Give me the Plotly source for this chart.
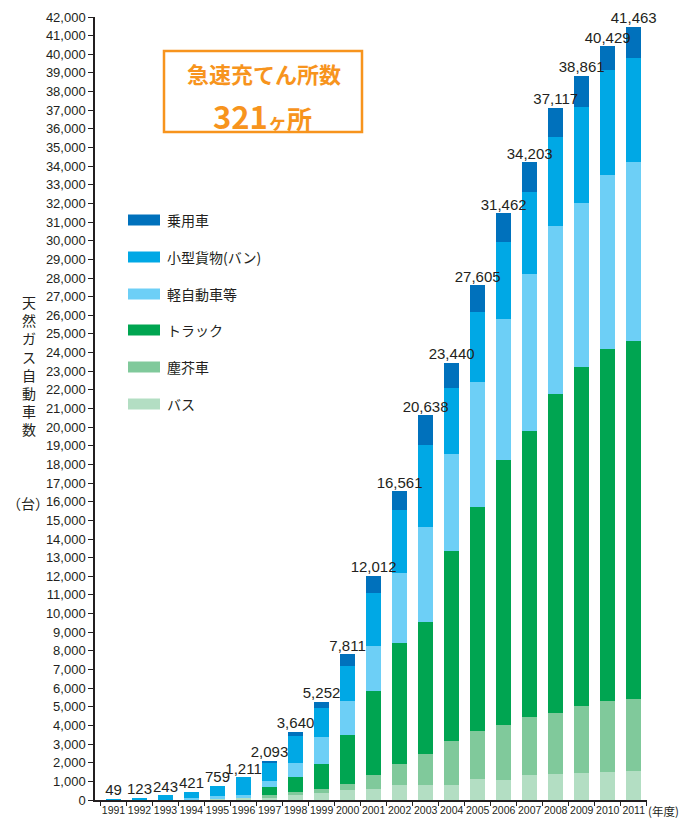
import plotly.graph_objects as go

years = [str(y) for y in range(1991, 2012)]
totals = [49, 123, 243, 421, 759, 1211, 2093, 3640, 5252, 7811, 12012, 16561,
          20638, 23440, 27605, 31462, 34203, 37117, 38861, 40429, 41463]

bus = [0, 0, 0, 0, 40, 120, 142, 276, 375, 542, 590, 802,
       800, 800, 1126, 1070, 1342, 1395, 1449, 1503, 1556]
garbage = [0, 0, 0, 0, 0, 0, 106, 165, 215, 326, 751, 1121,
           1680, 2368, 2584, 2968, 3108, 3274, 3596, 3810, 3864]
truck = [0, 0, 0, 0, 0, 0, 461, 791, 1341, 2603, 4506, 6518,
         7088, 10207, 11980, 14186, 15350, 17131, 18205, 18887, 19180]
kei = [0, 0, 0, 120, 180, 125, 319, 754, 1448, 1845, 2414, 3740,
       5056, 5197, 6733, 7565, 8440, 9000, 8800, 9350, 9600]
van = [49, 123, 243, 301, 539, 966, 958, 1434, 1556, 1898, 2842, 3366,
       4433, 3504, 3779, 4147, 4360, 4750, 5130, 5600, 5600]
car = [t - (a + b + c + d + e) for t, a, b, c, d, e in zip(totals, bus, garbage, truck, kei, van)]

series_names = ["バス", "塵芥車", "トラック", "軽自動車等", "小型貨物(バン)", "乗用車"]
series_colors = ["#b3dec3", "#80c99b", "#00a551", "#6dcff6", "#00a8e5", "#0071bc"]
series_values = [bus, garbage, truck, kei, van, car]

y_ticks = list(range(0, 42001, 1000))

INK = "#231f20"
ORANGE = "#f7941d"
JP = "Noto Sans CJK JP"

fig = go.Figure()
for name, col, vals in zip(series_names, series_colors, series_values):
    fig.add_trace(go.Bar(x=years, y=vals, name=name, marker=dict(color=col, line=dict(width=0)),
                         showlegend=False))

fig.add_trace(go.Scatter(x=years, y=totals, mode="text", text=[f"{t:,}" for t in totals],
                         textposition="top center", showlegend=False, cliponaxis=False,
                         textfont=dict(family="Liberation Sans, Arial", size=15, color=INK)))

# page offset: the html body has an 8px margin
OFF = 8
# plot area in page pixels: x 95..647, y 17..800
L, T, W, H = 95, 17, 552, 783
def px(x):
    return (x - L) / W
def py(y):
    return (T + H - y) / H

shapes = []
annotations = []

# legend (top to bottom)
legend_y = [220, 257, 294, 330, 367, 404]
for i, (name, col) in enumerate(zip(series_names[::-1], series_colors[::-1])):
    cy = legend_y[i]
    shapes.append(dict(type="rect", xref="paper", yref="paper", x0=px(128), x1=px(160),
                       y0=py(cy + 5.5), y1=py(cy - 5.5), fillcolor=col, line=dict(width=0)))
    annotations.append(dict(xref="paper", yref="paper", x=px(165), y=py(cy), text=name,
                            showarrow=False, xanchor="left", yanchor="middle",
                            font=dict(family=JP, size=14, color=INK)))

# orange box
shapes.append(dict(type="rect", xref="paper", yref="paper", x0=px(164), x1=px(362),
                   y0=py(132), y1=py(51), fillcolor="white", line=dict(color=ORANGE, width=2.5)))
annotations.append(dict(xref="paper", yref="paper", x=px(264), y=py(91), text="<b>急速充てん所数</b>",
                        showarrow=False, xanchor="center", yanchor="bottom",
                        font=dict(family=JP, size=22, color=ORANGE)))
annotations.append(dict(xref="paper", yref="paper", x=px(262), y=py(91),
                        text=("<b>321<span style='font-size:19px'>ヶ</span>"
                              "<span style='font-size:25px'>所</span></b>"),
                        showarrow=False, xanchor="center", yanchor="top",
                        font=dict(family=JP, size=31, color=ORANGE)))

# y-axis title (vertical stacked)
annotations.append(dict(xref="paper", yref="paper", x=px(29), y=py(365),
                        text="<br>".join(list("天然ガス自動車数")),
                        showarrow=False, xanchor="center", yanchor="middle",
                        font=dict(family=JP, size=14, color=INK)))
annotations.append(dict(xref="paper", yref="paper", x=px(28), y=py(503), text="（台）",
                        showarrow=False, xanchor="center", yanchor="middle",
                        font=dict(family=JP, size=14, color=INK)))
annotations.append(dict(xref="paper", yref="paper", x=px(646), y=py(811), text="(年度)",
                        showarrow=False, xanchor="left", yanchor="middle",
                        font=dict(family=JP, size=11.5, color=INK)))

fig.update_layout(
    width=687 - OFF, height=819 - OFF,
    margin=dict(l=L - OFF, r=687 - (L + W), t=T - OFF, b=819 - (T + H), autoexpand=False),
    barmode="stack", bargap=0.42,
    plot_bgcolor="white", paper_bgcolor="white",
    shapes=shapes, annotations=annotations,
    xaxis=dict(type="category", range=[-0.71, 20.51], tickson="boundaries", ticks="outside",
               ticklen=4, tickwidth=1, tickcolor=INK, showline=True, linecolor=INK, linewidth=1.5,
               showgrid=False, tickangle=0,
               tickfont=dict(family="Liberation Sans Narrow, Liberation Sans", size=10.5, color=INK),
               automargin=False),
    yaxis=dict(range=[0, 42000], tickvals=y_ticks, tickformat=",", ticks="outside", ticklen=5,
               tickwidth=1, tickcolor=INK, showline=True, linecolor=INK, linewidth=1.5,
               showgrid=False, zeroline=False,
               tickfont=dict(family="Liberation Sans, Arial", size=13, color=INK), automargin=False),
)

fig.write_html("out.html")
